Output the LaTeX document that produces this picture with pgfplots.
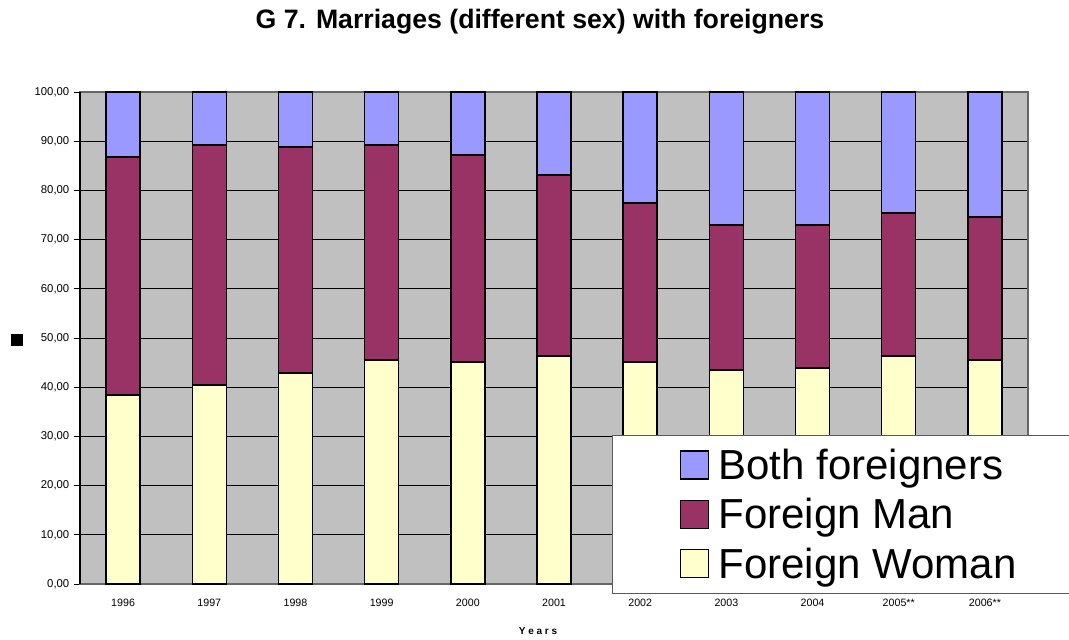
\documentclass[border=0pt]{standalone}
\usepackage{pgfplots}
\pgfplotsset{compat=1.18}
\usepackage{fontspec}
\setmainfont{Liberation Sans}
\definecolor{bgray}{HTML}{C0C0C0}
\definecolor{cboth}{HTML}{9999FF}
\definecolor{cman}{HTML}{993366}
\definecolor{cwoman}{HTML}{FFFFCC}
\begin{document}
\begin{tikzpicture}
\begin{axis}[
	scale only axis,
	width=711pt, height=369pt,
	ybar stacked,
	bar width=25.5pt,
	xmin=-0.5, xmax=10.5,
	ymin=0, ymax=100,
	xtick=data,
	xticklabels={1996,1997,1998,1999,2000,2001,2002,2003,2004,2005**,2006**},
	x tick label style={font=\fontsize{8}{9}\selectfont, yshift=-3pt},
	major x tick style={draw=none},
	ytick={0,10,...,100},
	ytick pos=left,
	y tick label style={font=\fontsize{8.5}{10}\selectfont},
	/pgf/number format/.cd, fixed, fixed zerofill, precision=2, use comma, assume math mode=true,
	/pgfplots/.cd,
	tick align=outside,
	major tick length=4.5pt,
	ytick style={black, line width=0.6pt},
	ymajorgrids,
	grid style={black, line width=0.6pt},
	axis background/.style={fill=bgray},
	axis line style={draw=gray!80!black, line width=0.8pt},
	every axis plot/.append style={draw=black, line width=1.1pt},
	reverse legend,
	legend style={at={(0.5612,0.3028)}, anchor=north west,
		font=\fontsize{31.5}{38}\selectfont, draw=gray!70!black, line width=0.8pt,
		fill=white, inner xsep=0pt, inner ysep=10.4pt, row sep=12.5pt,
		nodes={inner sep=0pt}, legend cell align=left},
	legend image code/.code={
		\path[draw=none, fill=none] (-51pt,0) -- (28.5pt,0);
		\draw[#1, line width=0.8pt] (0pt,-10pt) rectangle (21pt,11pt);},
]
\addplot[fill=cwoman] coordinates {(0,38.4) (1,40.4) (2,42.9) (3,45.5) (4,45.1) (5,46.3) (6,45.1) (7,43.5) (8,43.9) (9,46.3) (10,45.5)};
\addplot[fill=cman] coordinates {(0,48.4) (1,48.8) (2,45.9) (3,43.7) (4,42.1) (5,36.8) (6,32.3) (7,29.5) (8,29.1) (9,29.1) (10,29.1)};
\addplot[fill=cboth] coordinates {(0,13.2) (1,10.8) (2,11.2) (3,10.8) (4,12.8) (5,16.9) (6,22.6) (7,27.0) (8,27.0) (9,24.6) (10,25.4)};
\legend{\makebox[330pt][l]{Foreign Woman},\makebox[330pt][l]{Foreign Man},\makebox[330pt][l]{Both foreigners}}
\end{axis}
\draw[black, line width=0.8pt] (0,0) -- (0,369pt);
\node[font=\bfseries\fontsize{20}{24}\selectfont] at (345pt,421.5pt) {G 7. Marriages (different sex) with foreigners};
\node[font=\bfseries\fontsize{7.5}{9}\selectfont] at (343.5pt,-35.25pt) {Y e a r s};
\fill[black] (-51.75pt,178.5pt) rectangle (-42.75pt,187.5pt);
\pgfresetboundingbox
\path[use as bounding box] (-60pt,-41.25pt) rectangle (741.75pt,438pt);
\end{tikzpicture}
\end{document}
